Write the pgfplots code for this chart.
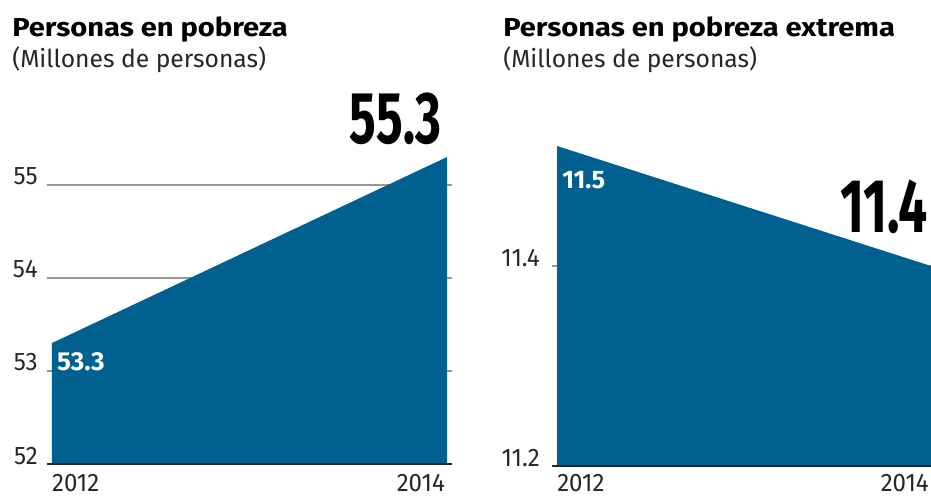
\documentclass[border=0pt]{standalone}
\usepackage{fontspec}
\setmainfont{Fira Sans}
\newfontfamily\condfont{Fira Sans}[FakeStretch=0.95]
\newfontfamily\widefont{Fira Sans}[FakeStretch=1.12]
\newfontfamily\bigfont{Fira Sans}[FakeStretch=0.68]
\usepackage{pgfplots}
\pgfplotsset{compat=1.18}
\definecolor{areablue}{RGB}{0,96,143}
\definecolor{gridgray}{RGB}{150,150,150}
\pgfplotsset{
  panel/.style={
    scale only axis, anchor=south west, clip=false,
    axis x line=bottom, axis y line=left, axis line style={draw=none},
    xtick=\empty, ymajorgrids,
    major grid style={draw=gridgray, line width=1.1pt},
    major tick length=0pt,
    /pgf/number format/assume math mode=true,
    yticklabel style={anchor=base east, inner sep=0pt, font=\condfont\fontsize{19pt}{19pt}\selectfont, text=black!85},
  }
}
\newcommand\ticksize{\condfont\fontsize{19pt}{19pt}\selectfont}
\begin{document}
\begin{tikzpicture}
\useasboundingbox (0,0) rectangle (698.25pt,372.75pt);
% titles
\node[anchor=base west, inner sep=0pt, font=\widefont\bfseries\fontsize{19.5pt}{19.5pt}\selectfont] at (9pt,345pt) {Personas en pobreza};
\node[anchor=base west, inner sep=0pt, font=\fontsize{18.5pt}{18.5pt}\selectfont, text=black!85] at (9pt,321.75pt) {(Millones de personas)};
\node[anchor=base west, inner sep=0pt, font=\widefont\bfseries\fontsize{19.5pt}{19.5pt}\selectfont] at (377.25pt,345pt) {Personas en pobreza extrema};
\node[anchor=base west, inner sep=0pt, font=\fontsize{18.5pt}{18.5pt}\selectfont, text=black!85] at (377.25pt,321.75pt) {(Millones de personas)};
% left panel
\begin{axis}[panel, at={(35.25pt,24.75pt)}, width=303.75pt, height=230.25pt,
  xmin=2011.975, xmax=2014.025, ymin=52, ymax=55.3, ytick={52,53,54,55},
  yticklabel style={xshift=-6.75pt}]
\addplot[fill=areablue, draw=none] coordinates {(2012,52) (2012,53.3) (2014,55.3) (2014,52)} -- cycle;
\draw[black!85, line width=1.5pt] (rel axis cs:0,0) -- (rel axis cs:1,0);
\node[anchor=base west, inner sep=0pt, text=white, font=\bfseries\fontsize{19.5pt}{19.5pt}\selectfont, xshift=3.75pt, yshift=-20.25pt] at (axis cs:2012,53.3) {53.3};
\node[anchor=base east, inner sep=0pt, font=\bigfont\bfseries\fontsize{55pt}{55pt}\selectfont, xshift=-3.75pt, yshift=10.5pt] at (axis cs:2014,55.3) {55.3};
\node[anchor=base west, inner sep=0pt, font=\ticksize, text=black!85, yshift=-20.25pt] at (axis cs:2012,52) {2012};
\node[anchor=base east, inner sep=0pt, font=\ticksize, text=black!85, xshift=-1.5pt, yshift=-20.25pt] at (axis cs:2014,52) {2014};
\end{axis}
% right panel
\begin{axis}[panel, at={(414pt,23.25pt)}, width=284.25pt, height=240pt,
  xmin=2011.973, xmax=2014, ymin=11.2, ymax=11.52, ytick={11.2,11.4},
  yticklabel style={xshift=-9pt, /pgf/number format/.cd, fixed, precision=1, fixed zerofill}]
\addplot[fill=areablue, draw=none] coordinates {(2012,11.2) (2012,11.52) (2014,11.40) (2014,11.2)} -- cycle;
\draw[black!85, line width=1.5pt] (rel axis cs:0,0) -- (rel axis cs:1,0);
\node[anchor=base west, inner sep=0pt, text=white, font=\bfseries\fontsize{19pt}{19pt}\selectfont, xshift=3.75pt, yshift=-31.5pt] at (axis cs:2012,11.52) {11.5};
\node[anchor=base east, inner sep=0pt, font=\bigfont\bfseries\fontsize{57pt}{57pt}\selectfont, xshift=-2.25pt, yshift=25.5pt] at (axis cs:2014,11.40) {11.4};
\node[anchor=base west, inner sep=0pt, font=\ticksize, text=black!85, yshift=-18.75pt] at (axis cs:2012,11.2) {2012};
\node[anchor=base east, inner sep=0pt, font=\ticksize, text=black!85, xshift=-1.5pt, yshift=-18.75pt] at (axis cs:2014,11.2) {2014};
\end{axis}
\end{tikzpicture}
\end{document}
